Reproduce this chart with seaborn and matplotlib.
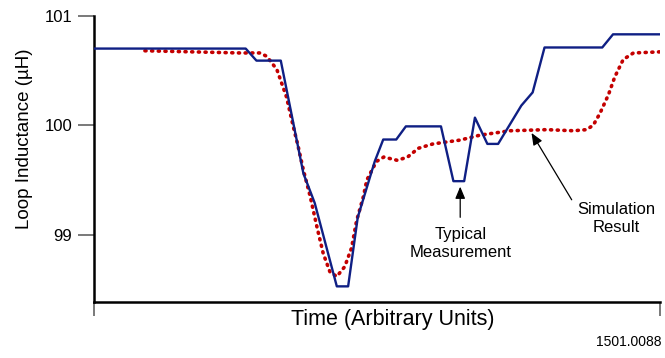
import numpy as np
import pandas as pd
import matplotlib
matplotlib.use("Agg")
import matplotlib.pyplot as plt
import seaborn as sns

# Typical measurement (blue solid)
meas_t = [0.0, 26.8, 28.7, 33.0, 37.0, 39.0, 42.9, 44.9, 46.6, 49.6, 51.1, 53.4,
          55.1, 61.3, 63.5, 65.4, 67.3, 69.5, 71.4, 75.5, 77.5, 79.6, 89.8, 91.7, 100.0]
meas_L = [100.70, 100.70, 100.59, 100.59, 99.56, 99.29, 98.53, 98.53, 99.16, 99.67,
          99.87, 99.87, 99.99, 99.99, 99.49, 99.49, 100.07, 99.83, 99.83, 100.18,
          100.30, 100.71, 100.71, 100.83, 100.83]

# Simulation result (red dotted)
sim_t = [9.0, 25.8, 29.3, 30.5, 32.3, 34.0, 35.2, 36.1, 37.0, 38.2, 39.4, 40.5,
         41.7, 42.9, 44.3, 45.5, 46.4, 47.6, 48.2, 49.9, 51.2, 53.6, 55.4, 57.3,
         59.9, 64.7, 68.2, 73.5, 80.0, 84.7, 87.0, 88.2, 89.4, 90.9, 92.0, 93.5,
         95.3, 100.0]
sim_L = [100.68, 100.66, 100.66, 100.63, 100.51, 100.26, 99.99, 99.80, 99.59, 99.35,
         99.07, 98.83, 98.66, 98.62, 98.71, 98.88, 99.13, 99.35, 99.50, 99.67, 99.71,
         99.68, 99.71, 99.79, 99.83, 99.865, 99.91, 99.95, 99.96, 99.95, 99.96, 100.00,
         100.11, 100.28, 100.44, 100.60, 100.66, 100.67]

y_ticks = [99, 100, 101]
y_tick_labels = ["99", "100", "101"]

sns.set_theme(style="white")
plt.rcParams["font.family"] = ["Liberation Sans", "DejaVu Sans"]
plt.rcParams["text.color"] = "black"
plt.rcParams["axes.labelcolor"] = "black"

fig = plt.figure(figsize=(6.65, 3.58), dpi=100)
ax = fig.add_axes([94 / 665, 1 - 301.7 / 358, 566 / 665, 286 / 358])

meas_df = pd.DataFrame({"t": meas_t, "L": meas_L})
sim_df = pd.DataFrame({"t": sim_t, "L": sim_L})

sns.lineplot(data=sim_df, x="t", y="L", ax=ax, color="#c40000", linewidth=2.6,
             linestyle=(0, (0.3, 1.55)), dash_capstyle="round", zorder=2)
sns.lineplot(data=meas_df, x="t", y="L", ax=ax, color="#0f1f84", linewidth=1.7, zorder=3)

ax.set_xlim(0, 100)
ax.set_ylim(98.39, 101.0)
ax.set_xticks([0, 100])
ax.set_xticklabels([])
ax.set_yticks(y_ticks)
ax.set_yticklabels(y_tick_labels)

for s in ["top", "right"]:
    ax.spines[s].set_visible(False)
for s in ["left", "bottom"]:
    ax.spines[s].set_color("black")
    ax.spines[s].set_linewidth(1.8)

ax.tick_params(axis="y", direction="out", length=11.5, width=1.1, color="#555555",
               labelcolor="black", labelsize=12, pad=4, left=True)
ax.tick_params(axis="x", direction="out", length=10, width=1.1, color="#555555",
               bottom=True)

ax.set_xlabel("Time (Arbitrary Units)", fontsize=15.5, color="black")
ax.xaxis.set_label_coords(0.528, -0.026)
ax.set_ylabel("Loop Inductance (\u00b5H)", fontsize=13.5, color="black")
ax.yaxis.set_label_coords(-0.108, 0.569)

arrow = dict(arrowstyle="-|>,head_length=0.6,head_width=0.25", color="black",
             lw=0.9, shrinkA=0, shrinkB=0)
ax.text(64.7, 98.92, "Typical\nMeasurement", ha="center", va="center", fontsize=12,
        linespacing=1.2, color="black")
ax.annotate("", xy=(64.7, 99.44), xytext=(64.7, 99.16), arrowprops=arrow)
ax.text(92.3, 99.15, "Simulation\nResult", ha="center", va="center", fontsize=12,
        linespacing=1.2, color="black")
ax.annotate("", xy=(77.3, 99.93), xytext=(84.4, 99.32), arrowprops=arrow)

fig.text(0.995, 0.045, "1501.0088", ha="right", va="center", fontsize=10, color="black")

fig.savefig("out.png", dpi=100, facecolor="white")
